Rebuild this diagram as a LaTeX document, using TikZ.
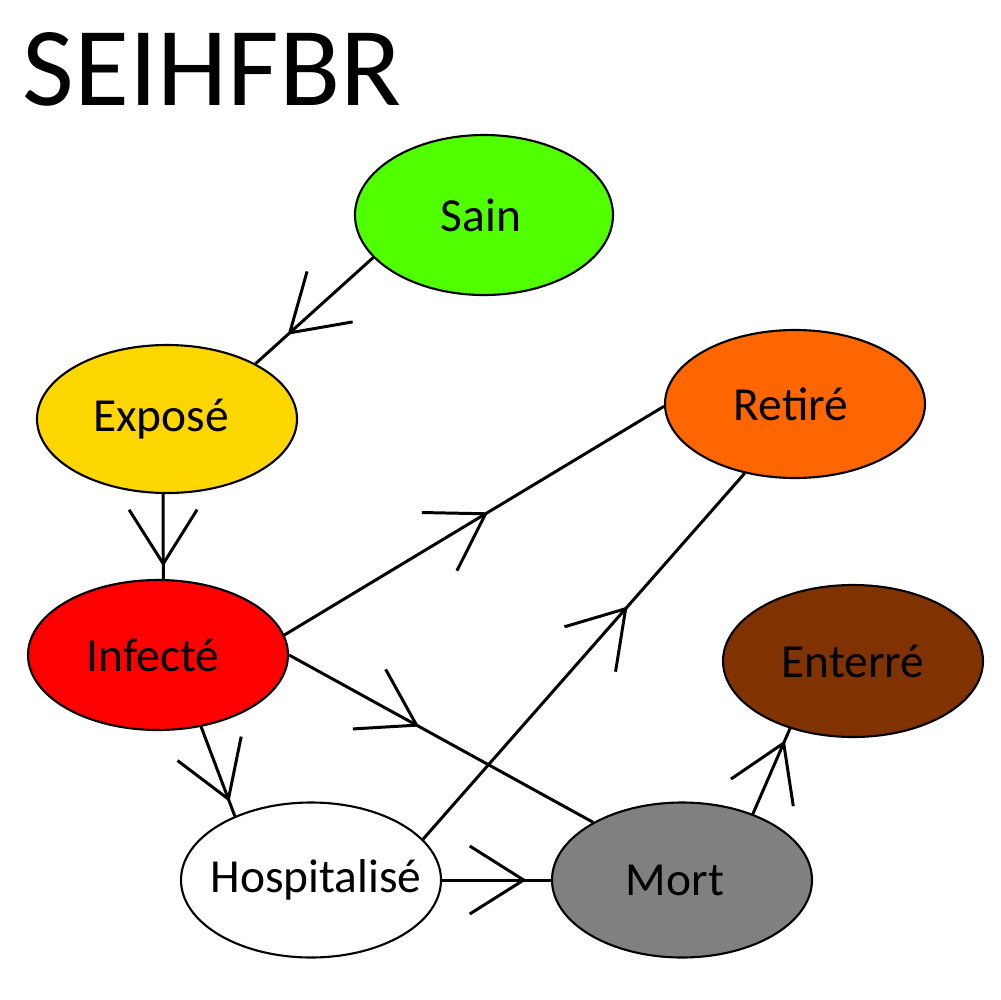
\documentclass[tikz,border=0pt]{standalone}
\usepackage{fontspec}
\setmainfont{Carlito}
\usetikzlibrary{shapes.geometric, decorations.markings}
\definecolor{sain}{RGB}{80,255,0}
\definecolor{expose}{RGB}{255,215,0}
\definecolor{infecte}{RGB}{255,0,0}
\definecolor{retire}{RGB}{255,102,0}
\definecolor{enterre}{RGB}{128,51,0}
\definecolor{mort}{RGB}{128,128,128}
\newcommand{\lbl}[2][0mm]{\makebox[0pt]{\hspace*{#1}#2\hspace*{-#1}}}
\tikzset{state/.style = {draw, ellipse, line width=0.6pt, minimum width=26mm, inner sep=0pt, font=\fontsize{13.5}{16}\selectfont}}
\tikzset{flow/.style = {line width=0.85pt, postaction={decorate}, decoration={markings, mark=at position #1 with {\draw[line width=0.85pt] (-5.4mm,3.4mm) -- (0,0) -- (-5.4mm,-3.4mm);}}}}

\begin{document}
\begin{tikzpicture}[x=0.1mm, y=-0.1mm]
			\useasboundingbox (0,0) rectangle (1000,1000);
			% Title
			\node[anchor=base west, inner sep=0pt, font=\fontsize{32}{38}\selectfont] (titre) at (22,105) {SEIHFBR};
			% Sain
			\node[state, fill=sain, minimum width=25.8mm, minimum height=16mm] (sain) at (484,215) {\lbl[-0.3mm]{Sain}};
			% Expose
			\node[state, fill=expose, minimum height=14.8mm] (expose) at (167,419) {\lbl[-0.6mm]{Exposé}};
			\draw[flow=0.71] (sain.201) -- (expose.32);
			% Infecte
			\node[state, fill=infecte, minimum height=15mm] (infecte) at (158,655) {\lbl[-0.5mm]{Infecté}};
			\draw[flow=0.82] (expose.267) -- (infecte.86);
			% Retire
			\node[state, fill=retire, minimum height=14.8mm] (retire) at (795,404) {\lbl[-0.4mm]{Retiré}};
			\draw[flow=0.53] (infecte.9) -- (retire.181);
			% Enterre
			\node[state, fill=enterre, minimum height=15.2mm] (enterre) at (853,661) {\lbl{Enterré}};
			% Hospitalise
			\node[state, fill=white, minimum height=15.5mm] (hospit) at (311,880) {\lbl[0.5mm]{Hospitalisé}};
			\draw[flow=0.81] (infecte.301) -- (hospit.140);
			\draw[flow=0.63] (hospit.20) -- (retire.234);
			% Mort
			\node[state, fill=mort, minimum height=15.5mm] (mort) at (682,880) {\lbl[-0.7mm]{Mort}};
			\draw[flow=0.42] (infecte.east) -- (mort.147);
			\draw[flow=0.75] (hospit.east) -- (mort.west);
			\draw[flow=0.83] (mort.43) -- (enterre.227);
		\end{tikzpicture}
\end{document}
